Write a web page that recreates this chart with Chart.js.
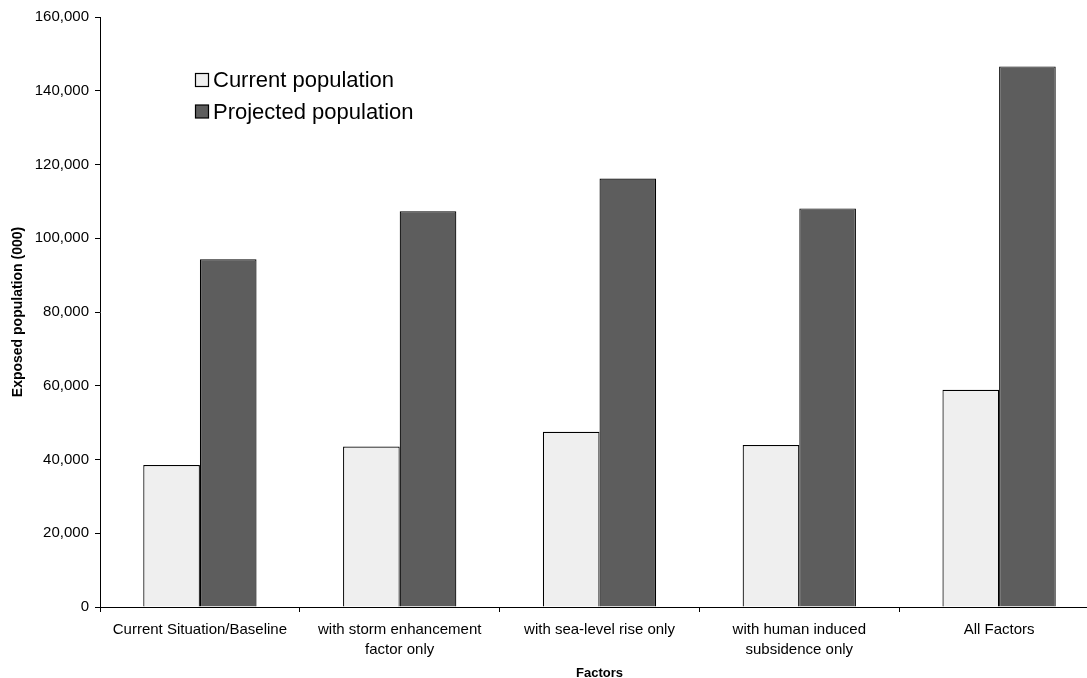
<!DOCTYPE html>
<html>
<head>
<meta charset="utf-8">
<title>Exposed population by factor</title>
<script src="https://cdn.jsdelivr.net/npm/chart.js@4"></script>
<style>
  html, body { margin: 0; padding: 0; background: #fff; overflow: hidden; }
  #wrap { width: 1087px; height: 678px; overflow: hidden; position: relative; }
  canvas { display: block; }
</style>
</head>
<body>
<div id="wrap"><canvas id="chart" width="1110" height="684"></canvas></div>
<script>
const categories = [
  'Current Situation/Baseline',
  ['with storm enhancement', 'factor only'],
  'with sea-level rise only',
  ['with human induced', 'subsidence only'],
  'All Factors'
];
const currentPopulation = [38500, 43500, 47500, 43900, 58900];
const projectedPopulation = [94300, 107300, 116200, 108100, 146600];
const seriesNames = ['Current population', 'Projected population'];

const FONT = "'Liberation Sans', Arial, Helvetica, sans-serif";

// Legend drawn inside the plot, upper left, from the dataset styles
const innerLegend = {
  id: 'innerLegend',
  afterDraw(chart) {
    const ctx = chart.ctx;
    ctx.save();
    ctx.font = '22px ' + FONT;
    ctx.textBaseline = 'middle';
    chart.data.datasets.forEach((ds, i) => {
      const cy = 80 + i * 31.5;
      ctx.fillStyle = ds.backgroundColor;
      ctx.fillRect(195.5, cy - 6.5, 13, 13);
      ctx.strokeStyle = '#000';
      ctx.lineWidth = 1.2;
      ctx.strokeRect(195.5, cy - 6.5, 13, 13);
      ctx.fillStyle = '#000';
      ctx.fillText(ds.label, 213, cy + 1);
    });
    ctx.restore();
  }
};

new Chart(document.getElementById('chart'), {
  type: 'bar',
  data: {
    labels: categories,
    datasets: [
      {
        label: seriesNames[0],
        data: currentPopulation,
        backgroundColor: '#efefef',
        borderColor: '#000',
        borderWidth: 1.2
      },
      {
        label: seriesNames[1],
        data: projectedPopulation,
        backgroundColor: '#5d5d5d',
        borderColor: '#000',
        borderWidth: 1.2
      }
    ]
  },
  options: {
    responsive: false,
    animation: false,
    devicePixelRatio: 1,
    layout: { padding: { top: 17, right: 11, bottom: 0, left: 0 } },
    datasets: {
      bar: { categoryPercentage: 0.567, barPercentage: 1.0 }
    },
    plugins: {
      legend: { display: false },
      tooltip: { enabled: false }
    },
    scales: {
      x: {
        grid: {
          display: true,
          offset: true,
          drawOnChartArea: false,
          drawTicks: true,
          tickLength: 5,
          color: '#000'
        },
        border: { display: true, color: '#000', width: 1 },
        ticks: {
          color: '#000',
          font: { family: FONT, size: 15, lineHeight: 1.33 },
          padding: 8,
          maxRotation: 0,
          autoSkip: false
        },
        title: {
          display: true,
          text: 'Factors',
          color: '#000',
          font: { family: FONT, size: 13, weight: 'bold' },
          padding: { top: 0, bottom: 3 }
        },
        afterFit(scale) { scale.height = 77; }
      },
      y: {
        min: 0,
        max: 160000,
        grid: {
          display: true,
          drawOnChartArea: false,
          drawTicks: true,
          tickLength: 5,
          color: '#000'
        },
        border: { display: true, color: '#000', width: 1 },
        ticks: {
          stepSize: 20000,
          color: '#000',
          font: { family: FONT, size: 15 },
          padding: 6
        },
        title: {
          display: true,
          text: 'Exposed population (000)',
          color: '#000',
          font: { family: FONT, size: 14, weight: 'bold' },
          padding: { top: 10, bottom: 0 }
        },
        afterFit(scale) { scale.width = 100; }
      }
    }
  },
  plugins: [innerLegend]
});
</script>
</body>
</html>
